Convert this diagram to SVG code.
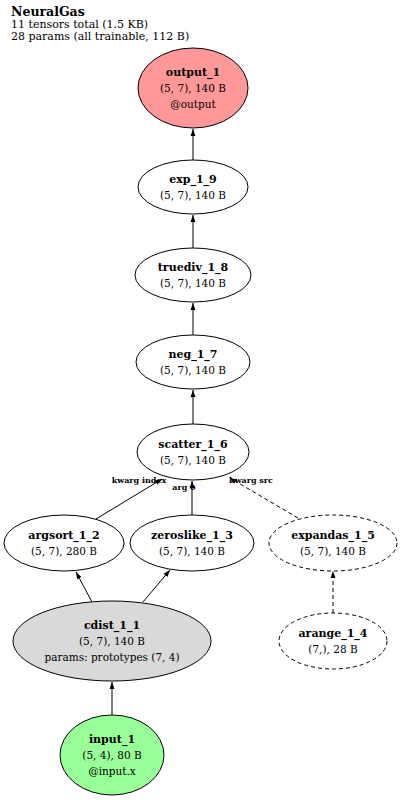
<svg xmlns="http://www.w3.org/2000/svg" width="400" height="800" viewBox="0 0 400 800">
<style>
text{font-family:"DejaVu Serif","Liberation Serif",serif;fill:#000}
.h{font-size:11px}
.hb{font-size:12.5px;font-weight:bold}
.t{font-size:11px;font-weight:bold;text-anchor:middle}
.s{font-size:10.5px;text-anchor:middle}
.l{font-size:8px;font-weight:bold;text-anchor:middle}
.n{stroke:#000;stroke-width:1;fill:#fff}
.d{stroke-dasharray:4,3}
.e{stroke:#000;stroke-width:1;fill:none;marker-end:url(#a)}
</style>
<defs>
<marker id="a" viewBox="0 0 10 10" refX="10" refY="5" markerWidth="7" markerHeight="7" orient="auto" markerUnits="userSpaceOnUse"><path d="M0,1.5 L10,5 L0,8.5 z" fill="#000"/></marker>
</defs>
<g id="header">
<text class="hb" x="11" y="16">NeuralGas</text>
<text class="h" x="11" y="28">11 tensors total (1.5 KB)</text>
<text class="h" x="11" y="40">28 params (all trainable, 112 B)</text>
</g>
<g id="edges">
<path class="e" d="M193,160 L193,129"/>
<path class="e" d="M193,248 L193,215"/>
<path class="e" d="M193,335 L193,303"/>
<path class="e" d="M193,424 L193,390"/>
<path class="e" d="M96,519 L162,479"/>
<path class="e" d="M192,515 L192,481"/>
<path class="e d" d="M298,518 L230,478"/>
<path class="e" d="M92,602 L76,572"/>
<path class="e" d="M143,602 L170,570"/>
<path class="e" d="M112,715 L112,682"/>
<path class="e d" d="M333,613 L333,571"/>
<text class="l" x="139" y="483">kwarg index</text>
<text class="l" x="184" y="490">arg 0</text>
<text class="l" x="251" y="483">kwarg src</text>
</g>
<g id="output_1">
<ellipse class="n" cx="193" cy="88" rx="55" ry="40" style="fill:#ff9999"/>
<text class="t" x="193" y="76">output_1</text>
<text class="s" x="193" y="92">(5, 7), 140 B</text>
<text class="s" x="193" y="108">@output</text>
</g>
<g id="exp_1_9">
<ellipse class="n" cx="193" cy="187" rx="55" ry="27"/>
<text class="t" x="193" y="183">exp_1_9</text>
<text class="s" x="193" y="199">(5, 7), 140 B</text>
</g>
<g id="truediv_1_8">
<ellipse class="n" cx="193" cy="275" rx="58" ry="27"/>
<text class="t" x="193" y="271">truediv_1_8</text>
<text class="s" x="193" y="287">(5, 7), 140 B</text>
</g>
<g id="neg_1_7">
<ellipse class="n" cx="193" cy="362" rx="57" ry="27"/>
<text class="t" x="193" y="358">neg_1_7</text>
<text class="s" x="193" y="374">(5, 7), 140 B</text>
</g>
<g id="scatter_1_6">
<ellipse class="n" cx="193" cy="452" rx="56" ry="28"/>
<text class="t" x="193" y="448">scatter_1_6</text>
<text class="s" x="193" y="464">(5, 7), 140 B</text>
</g>
<g id="argsort_1_2">
<ellipse class="n" cx="64" cy="543" rx="60" ry="28"/>
<text class="t" x="64" y="539">argsort_1_2</text>
<text class="s" x="64" y="555">(5, 7), 280 B</text>
</g>
<g id="zeroslike_1_3">
<ellipse class="n" cx="192" cy="543" rx="62" ry="28"/>
<text class="t" x="192" y="539">zeroslike_1_3</text>
<text class="s" x="192" y="555">(5, 7), 140 B</text>
</g>
<g id="expandas_1_5">
<ellipse class="n d" cx="333" cy="543" rx="64" ry="28"/>
<text class="t" x="333" y="539">expandas_1_5</text>
<text class="s" x="333" y="555">(5, 7), 140 B</text>
</g>
<g id="cdist_1_1">
<ellipse class="n" cx="112" cy="641" rx="99" ry="40" style="fill:#d9d9d9"/>
<text class="t" x="112" y="629">cdist_1_1</text>
<text class="s" x="112" y="645">(5, 7), 140 B</text>
<text class="s" x="112" y="661">params: prototypes (7, 4)</text>
</g>
<g id="arange_1_4">
<ellipse class="n d" cx="333" cy="641" rx="54" ry="28"/>
<text class="t" x="333" y="637">arange_1_4</text>
<text class="s" x="333" y="653">(7,), 28 B</text>
</g>
<g id="input_1">
<ellipse class="n" cx="112" cy="755" rx="52" ry="40" style="fill:#99ff99"/>
<text class="t" x="112" y="743">input_1</text>
<text class="s" x="112" y="759">(5, 4), 80 B</text>
<text class="s" x="112" y="775">@input.x</text>
</g>
</svg>
